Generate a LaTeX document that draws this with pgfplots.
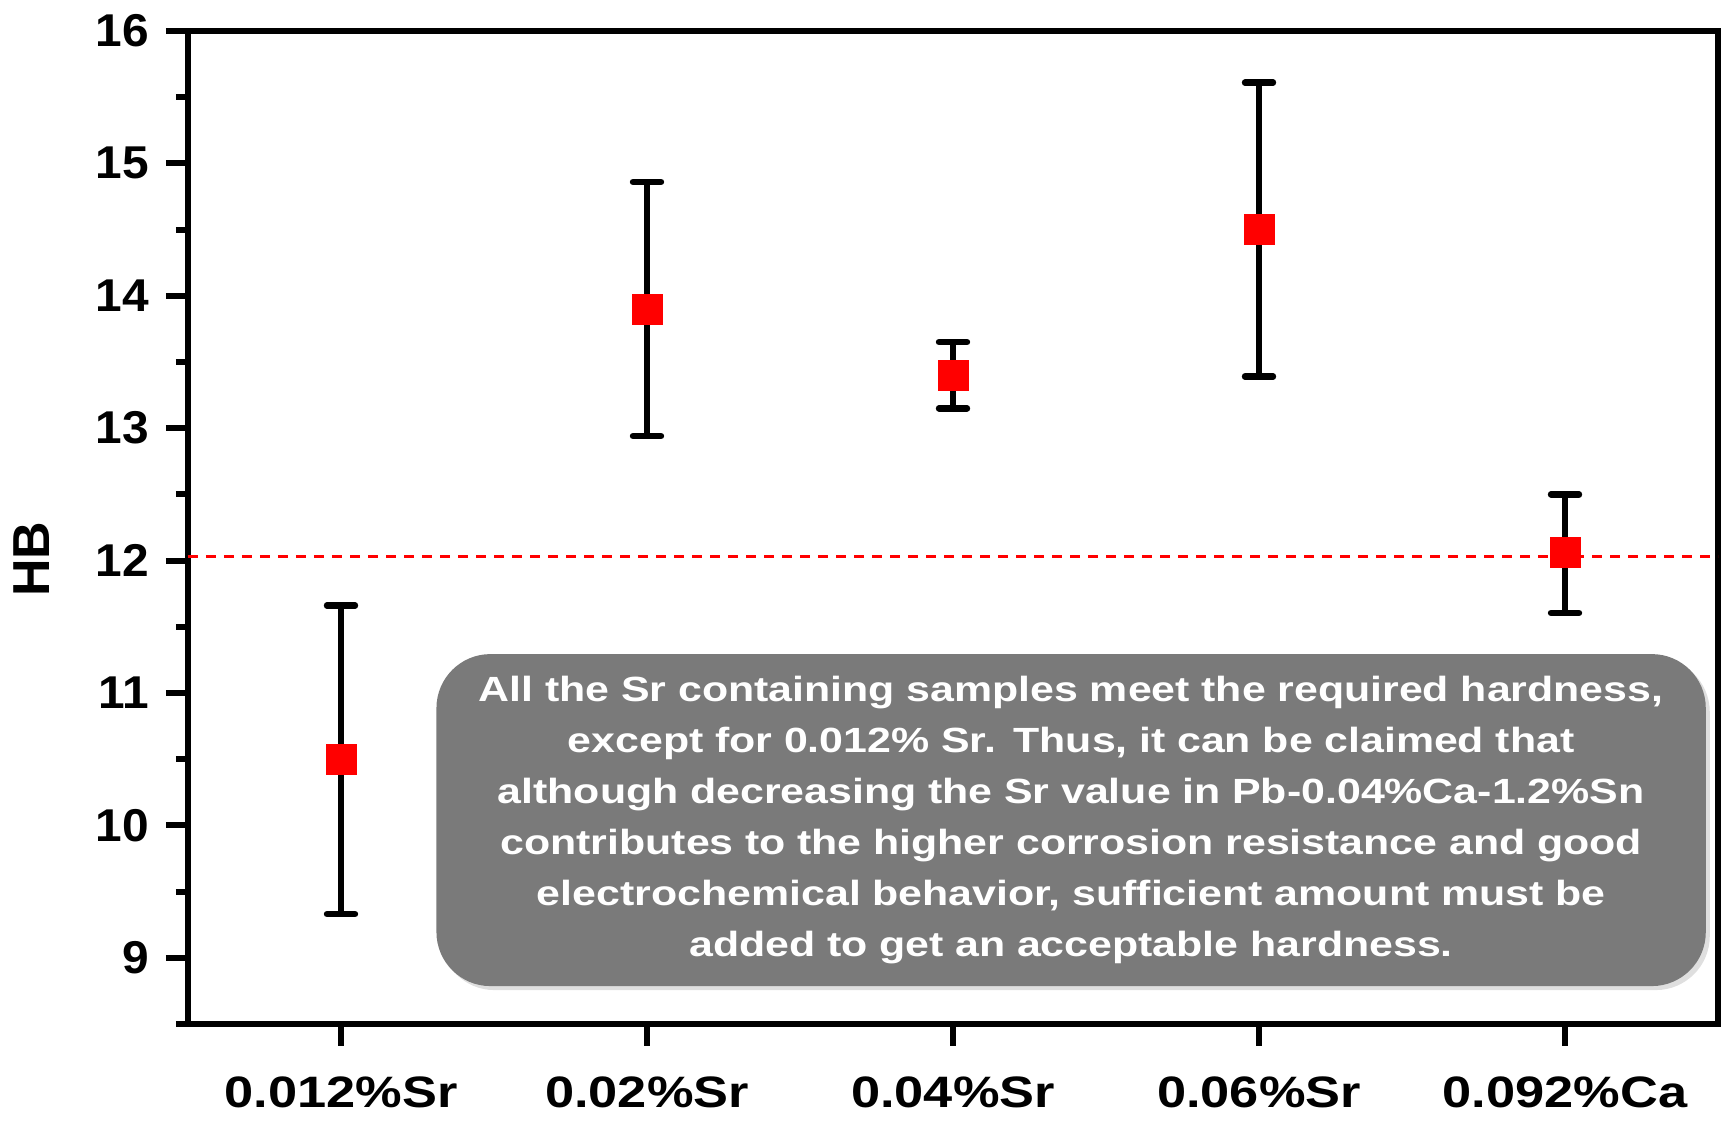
\documentclass[border=0pt]{standalone}
\usepackage{pgfplots}
\pgfplotsset{compat=1.18}
\usepackage{fontspec}
\setmainfont{Liberation Sans}
\newfontfamily\widesans[FakeStretch=1.19]{Liberation Sans}
\newfontfamily\boxsans[FakeStretch=1.225]{Liberation Sans}
\newfontfamily\ticksans[FakeStretch=1.04]{Liberation Sans}
\usetikzlibrary{shadows}
\definecolor{boxgray}{RGB}{122,122,122}

\begin{document}
\begin{tikzpicture}
\begin{axis}[
    name=ax,
    scale only axis,
    width=765pt,
    height=496.5pt,
    xmin=-0.5, xmax=4.5,
    ymin=8.5, ymax=16,
    xtick={0,1,2,3,4},
    xticklabels={0.012\%Sr, 0.02\%Sr, \raisebox{-3pt}{0.04\%Sr}, 0.06\%Sr, 0.092\%Ca},
    ytick={9,10,...,16},
    minor ytick={8.5,9.5,...,15.5},
    tick align=outside,
    xtick pos=lower,
    ytick pos=left,
    major tick length=11pt,
    minor tick length=6pt,
    axis line style={line width=3pt},
    every tick/.style={black, line width=3pt},
    /pgf/number format/assume math mode=true,
    xticklabel style={font=\fontsize{22}{22}\selectfont\widesans\bfseries, yshift=-12pt},
    yticklabel style={font=\fontsize{23}{23}\selectfont\ticksans\bfseries, xshift=-5pt},
    ylabel={HB},
    ylabel style={font=\fontsize{26}{26}\selectfont\bfseries, at={(axis description cs:-0.102,0.468)}, anchor=center},
]
\addplot[red, line width=1.2pt, dash pattern=on 5pt off 4pt] coordinates {(-0.5,12.03) (4.5,12.03)};
\addplot[only marks, mark=square*, mark size=7.5pt, red,
    error bars/.cd, y dir=both, y explicit,
    error bar style={black, line width=3.2pt},
    error mark options={black, rotate=90, mark size=7pt, line width=3.2pt, line cap=round}]
coordinates {
    (0,10.50) += (0,1.16) -= (0,1.17)
    (1,13.90) += (0,0.96) -= (0,0.96)
    (2,13.40) += (0,0.25) -= (0,0.25)
    (3,14.50) += (0,1.11) -= (0,1.11)
    (4,12.06) += (0,0.44) -= (0,0.455)
};
\node[fill=boxgray, rounded corners=27pt, minimum width=631pt, minimum height=166pt,
      text width=628pt, align=center, text=white,
      font=\fontsize{17.5}{25.5}\selectfont\boxsans\bfseries,
      drop shadow={shadow xshift=2pt, shadow yshift=-2pt, opacity=0.25}]
  at (axis cs:2.386,10.04) {All the Sr containing samples meet the required hardness,\\
except for 0.012\% Sr. Thus, it can be claimed that\\
although decreasing the Sr value in Pb-0.04\%Ca-1.2\%Sn\\
contributes to the higher corrosion resistance and good\\
electrochemical behavior, sufficient amount must be\\
added to get an acceptable hardness.};
\end{axis}
\pgfresetboundingbox
\path[use as bounding box] ([shift={(-94pt,-48.5pt)}]ax.south west) rectangle ([shift={(3pt,15.5pt)}]ax.north east);
\end{tikzpicture}
\end{document}
